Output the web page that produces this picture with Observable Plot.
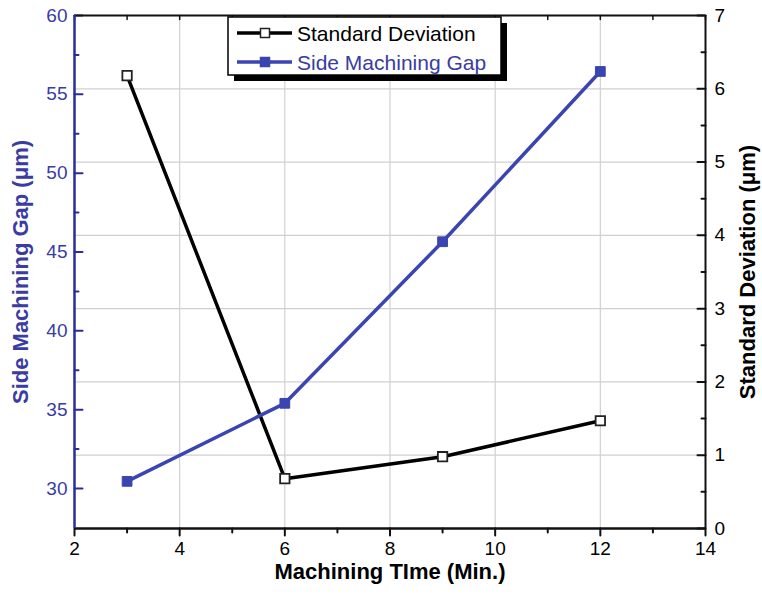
<!DOCTYPE html>
<html><head><meta charset="utf-8">
<script src="https://cdn.jsdelivr.net/npm/d3@7"></script>
<script src="https://cdn.jsdelivr.net/npm/@observablehq/plot@0.6"></script>
<style>body{margin:0;background:#fff} #chart{width:762px;height:598px}</style>
</head><body><div id="chart"></div>
<script>
// ---- data ----
const times = [3, 6, 9, 12];
const gapValues = [30.45, 35.4, 45.65, 56.45];
const sdValues = [6.18, 0.68, 0.98, 1.47];
const xTicks = [2, 4, 6, 8, 10, 12, 14];
const xMinor = [3, 5, 7, 9, 11, 13];
const gapTicks = [30, 35, 40, 45, 50, 55, 60];
const gapMinor = [32.5, 37.5, 42.5, 47.5, 52.5, 57.5];
const sdTicks = [0, 1, 2, 3, 4, 5, 6, 7];
const sdMinor = [0.5, 1.5, 2.5, 3.5, 4.5, 5.5, 6.5];
const gridX = [4, 6, 8, 10, 12];
const gridY = [1, 2, 3, 4, 5, 6];
const gapDomain = [27.46, 60];
const sdDomain = [0, 7];
const seriesNames = ["Standard Deviation", "Side Machining Gap"];

const BLUE = "#3a45b0";
const BLUE_TXT = "#3a3ca2";
const AXIS_BLUE = "#2a2d9a";
const FONT = "'Liberation Sans', Arial, sans-serif";

const g2s = g => (g - gapDomain[0]) / (gapDomain[1] - gapDomain[0]) * (sdDomain[1] - sdDomain[0]) + sdDomain[0];
const s2g = s => (s - sdDomain[0]) / (sdDomain[1] - sdDomain[0]) * (gapDomain[1] - gapDomain[0]) + gapDomain[0];

const sdData = times.map((t, i) => ({t, v: sdValues[i]}));
const gapData = times.map((t, i) => ({t, v: g2s(gapValues[i])}));

// straight tick shape for vector marks
const tickShape = {draw(context, l) { context.moveTo(0, 0); context.lineTo(0, -l); }};
const ticksY = (data, side, len, stroke) => Plot.vector(data, {y: d => d, frameAnchor: side, length: len, rotate: side === "left" ? 90 : -90, anchor: "start", shape: tickShape, stroke, strokeWidth: 2});
const ticksX = (data, side, len, rotate, sw) => Plot.vector(data, {x: d => d, frameAnchor: side, length: len, rotate, anchor: "start", shape: tickShape, stroke: "#111", strokeWidth: sw});

const chart = Plot.plot({
  width: 762, height: 598,
  marginLeft: 74, marginRight: 57, marginTop: 15, marginBottom: 70,
  style: {fontFamily: FONT, fontSize: "19px", background: "#fff", color: "#000"},
  x: {domain: [2, 14]},
  y: {domain: sdDomain},
  marks: [
    Plot.gridX(gridX, {stroke: "#d0d0d0", strokeOpacity: 1, strokeWidth: 1.2}),
    Plot.gridY(gridY, {stroke: "#d0d0d0", strokeOpacity: 1, strokeWidth: 1.2}),
    // bottom axis labels + ticks (outward)
    Plot.axisX(xTicks, {anchor: "bottom", tickSize: 0, tickPadding: 13, label: null, fontSize: 19}),
    ticksX(xTicks, "bottom", 7, 180, 2),
    ticksX(xMinor, "bottom", 4, 180, 2),
    // top ticks (inward)
    ticksX(xTicks.concat(xMinor), "top", 4, 180, 1.5),
    // left axis (gap)
    Plot.axisY(gapTicks.map(g2s), {anchor: "left", tickSize: 0, tickPadding: 7, fill: BLUE_TXT, label: null, tickFormat: d => Math.round(s2g(d)), fontSize: 19}),
    ticksY(gapTicks.map(g2s), "left", 8, AXIS_BLUE),
    ticksY(gapMinor.map(g2s), "left", 4, AXIS_BLUE),
    // right axis (sd)
    Plot.axisY(sdTicks, {anchor: "right", tickSize: 0, tickPadding: 9, label: null, tickFormat: d => String(d), fontSize: 19}),
    ticksY(sdTicks, "right", 8, "#111"),
    ticksY(sdMinor, "right", 4, "#111"),
    // frame
    Plot.ruleY([sdDomain[1]], {stroke: "#111", strokeWidth: 2}),
    Plot.ruleY([sdDomain[0]], {stroke: "#111", strokeWidth: 2.5}),
    Plot.ruleX([14], {stroke: "#111", strokeWidth: 2}),
    Plot.ruleX([2], {stroke: AXIS_BLUE, strokeWidth: 2.5}),
    // series
    Plot.line(sdData, {x: "t", y: "v", stroke: "#000", strokeWidth: 3.5}),
    Plot.line(gapData, {x: "t", y: "v", stroke: BLUE, strokeWidth: 3.5}),
    Plot.dot(sdData, {x: "t", y: "v", symbol: "square", r: 5.3, fill: "#fff", stroke: "#222", strokeWidth: 1.8}),
    Plot.dot(gapData, {x: "t", y: "v", symbol: "square", r: 5.5, fill: BLUE, stroke: BLUE, strokeWidth: 1}),
    // axis titles
    Plot.text(["Side Machining Gap (\u03bcm)"], {frameAnchor: "left", dx: -54, rotate: -90, textAnchor: "middle", fill: BLUE_TXT, fontWeight: "bold", fontSize: 22}),
    Plot.text(["Standard Deviation (\u03bcm)"], {frameAnchor: "right", dx: 42, rotate: -90, textAnchor: "middle", fill: "#000", fontWeight: "bold", fontSize: 22}),
    Plot.text(["Machining TIme (Min.)"], {frameAnchor: "bottom", dy: 50, textAnchor: "middle", fill: "#000", fontWeight: "bold", fontSize: 22})
  ]
});
document.getElementById("chart").appendChild(chart);

// legend
const svg = d3.select(chart);
const lg = svg.append("g").attr("font-family", FONT);
lg.append("rect").attr("x", 234).attr("y", 23).attr("width", 273).attr("height", 58).attr("fill", "#000");
lg.append("rect").attr("x", 228).attr("y", 17).attr("width", 273).attr("height", 58).attr("fill", "#fff").attr("stroke", "#000").attr("stroke-width", 1.5);
const rows = [
  {name: seriesNames[0], y: 33, stroke: "#000", fill: "#fff", text: "#000"},
  {name: seriesNames[1], y: 62, stroke: BLUE, fill: BLUE, text: BLUE_TXT}
];
rows.forEach(r => {
  lg.append("line").attr("x1", 237).attr("x2", 292).attr("y1", r.y).attr("y2", r.y).attr("stroke", r.stroke).attr("stroke-width", 3.5);
  lg.append("rect").attr("x", 260.5).attr("y", r.y - 4.5).attr("width", 9).attr("height", 9).attr("fill", r.fill).attr("stroke", r.stroke === "#000" ? "#222" : r.stroke).attr("stroke-width", 1.5);
  lg.append("text").attr("x", 297).attr("y", r.y).attr("dy", "0.36em").attr("text-anchor", "start").style("font-size", "21px").attr("fill", r.text).text(r.name);
});
</script>
</body></html>
